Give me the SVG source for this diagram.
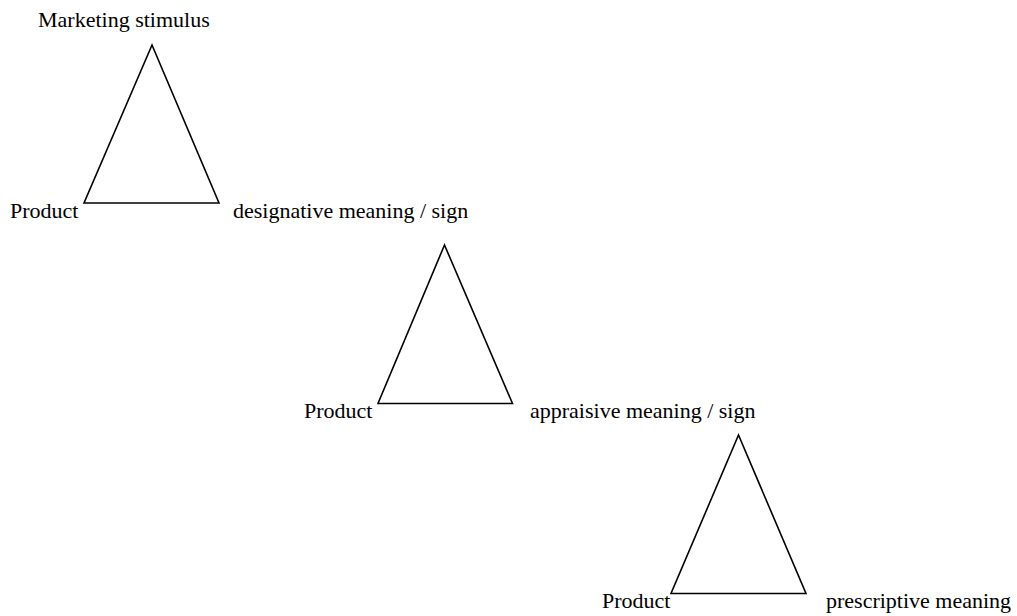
<svg xmlns="http://www.w3.org/2000/svg" width="1017" height="616" viewBox="0 0 1017 616">
  <style>
    .tri { fill: none; stroke: #000; stroke-width: 1.6; stroke-linejoin: miter; }
    .lbl { font-family: "Liberation Serif", "Times New Roman", serif; font-size: 22px; fill: #000; }
  </style>
  <rect width="1017" height="616" fill="#fff"/>

  <!-- First triangle: stimulus, product, designative meaning -->
  <g id="triangle-designative">
    <polygon class="tri" points="152,45 84,203 219,203"/>
    <text class="lbl" x="38" y="27">Marketing stimulus</text>
    <text class="lbl" x="10" y="218">Product</text>
    <text class="lbl" x="233" y="218">designative meaning / sign</text>
  </g>

  <!-- Second triangle: appraisive meaning -->
  <g id="triangle-appraisive">
    <polygon class="tri" points="444.5,245 378,403.5 512.5,403.5"/>
    <text class="lbl" x="304" y="418">Product</text>
    <text class="lbl" x="530" y="418">appraisive meaning / sign</text>
  </g>

  <!-- Third triangle: prescriptive meaning -->
  <g id="triangle-prescriptive">
    <polygon class="tri" points="738.5,435 671,593.5 806,593.5"/>
    <text class="lbl" x="602" y="608">Product</text>
    <text class="lbl" x="826" y="608">prescriptive meaning</text>
  </g>

  <g id="connectors"></g>
</svg>
